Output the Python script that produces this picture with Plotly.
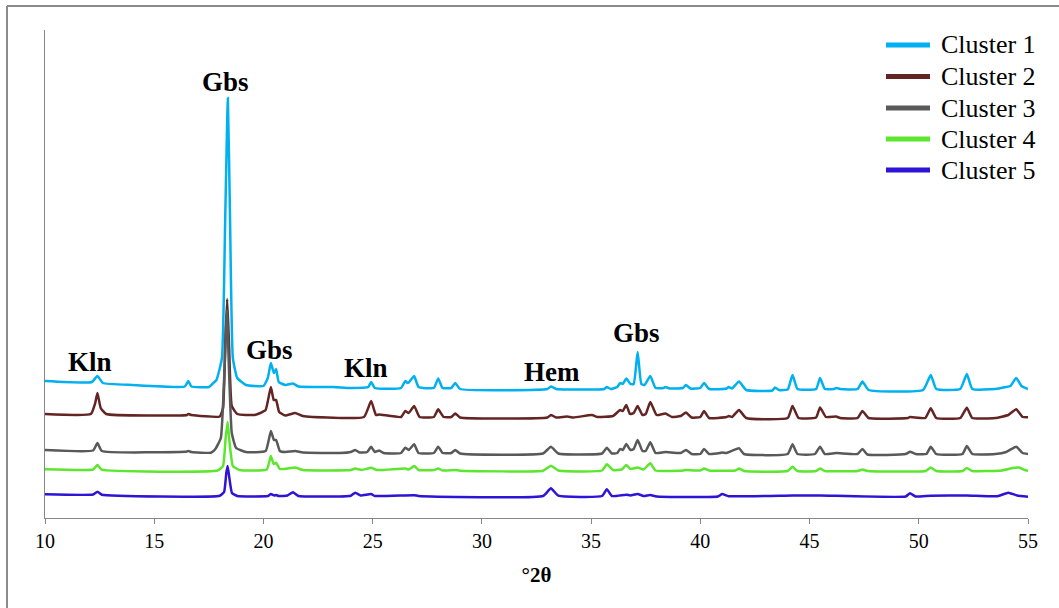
import plotly.graph_objects as go

# ---------------- data ----------------
series_names = ["Cluster 1", "Cluster 2", "Cluster 3", "Cluster 4", "Cluster 5"]
series_colors = ["#00B0F0", "#632523", "#595959", "#5CE62E", "#2E14D4"]

c1_x = [10.0, 12.15, 12.4, 12.65, 14.0, 16.4, 16.56, 16.7, 17.5, 17.7, 17.85, 18.1, 18.25, 18.37, 18.47, 18.6, 18.8, 19.2,
        20.0, 20.2, 20.34, 20.48, 20.58, 20.7, 21.0, 21.35, 21.6, 23.2, 24.0, 24.8, 24.93, 25.1, 26.3, 26.49, 26.6, 26.67,
        26.9, 27.1, 27.8, 28.0, 28.2, 28.6, 28.78, 29.0, 33.0, 33.16, 33.4, 35.6, 35.72, 35.9, 36.2, 36.33, 36.45, 36.61,
        36.8, 36.95, 37.13, 37.3, 37.45, 37.71, 37.95, 38.3, 38.4, 38.6, 39.2, 39.34, 39.55, 40.0, 40.17, 40.4, 41.2, 41.3,
        41.45, 41.77, 42.1, 43.3, 43.42, 43.6, 44.0, 44.22, 44.45, 45.3, 45.48, 45.7, 46.1, 46.22, 46.4, 47.2, 47.42, 47.7,
        50.2, 50.55, 50.8, 51.9, 52.2, 52.45, 53.5, 54.0, 54.2, 54.46, 54.7, 55.0]
c1_y = [137, 136, 142, 135, 133, 131.5, 137, 131.5, 131, 135, 138, 160, 300, 420, 300, 160, 140, 133,
        132, 140, 155, 145, 149, 136, 133, 134.5, 131.5, 131, 130, 131, 136, 130, 130, 137, 135, 136,
        142, 131, 130, 139.5, 130, 130, 135, 129, 129, 131.5, 129, 129, 131, 129, 131, 135, 134, 139.5,
        134, 134, 166, 134, 133, 142, 130, 130, 131, 129.5, 130, 133, 129.5, 130, 135, 129, 129.5, 131,
        129.5, 136.5, 128, 127.5, 130.5, 128, 128.5, 143, 129, 129, 140, 129, 129, 130, 129, 129, 136.5, 128,
        128, 143, 129, 129, 144, 129, 129, 131, 132, 140, 132, 129]

c2_x = [10.0, 12.1, 12.3, 12.4, 12.55, 12.8, 16.5, 16.56, 16.7, 18.0, 18.15, 18.26, 18.34, 18.43, 18.55, 18.8, 19.6, 19.8,
        20.1, 20.34, 20.47, 20.58, 20.72, 21.0, 21.45, 21.8, 24.6, 24.93, 25.15, 25.3, 26.3, 26.49, 26.65, 26.9, 27.15,
        27.8, 28.0, 28.25, 28.6, 28.78, 29.0, 33.0, 33.16, 33.4, 33.9, 34.2, 35.04, 35.3, 36.0, 36.33, 36.45, 36.61, 36.78,
        36.95, 37.13, 37.35, 37.5, 37.71, 38.0, 38.4, 38.7, 39.1, 39.34, 39.6, 40.0, 40.17, 40.4, 41.2, 41.3, 41.45, 41.77,
        42.1, 44.0, 44.22, 44.5, 45.3, 45.48, 45.75, 46.22, 46.4, 47.2, 47.42, 47.7, 49.5, 49.6, 50.3, 50.55, 50.8, 51.9,
        52.2, 52.45, 53.5, 54.1, 54.46, 54.75, 55.0]
c2_y = [104, 104, 115, 125, 110, 104, 103, 104, 103, 101.5, 110, 180, 219, 170, 112, 104, 103, 104.5,
        108, 131, 118, 118, 106, 102.5, 105, 102, 101, 117, 103, 103.5, 101, 107, 105, 112, 101,
        101, 108.7, 101, 101, 104.5, 100.5, 100.5, 103, 100.5, 101.5, 100.5, 103, 101, 102, 108, 107, 113, 104,
        105, 112, 103, 104, 116, 103, 104.5, 101, 102, 105.5, 100.5, 101, 107, 100, 101, 102, 101, 108,
        100, 100, 112, 100, 100.5, 110.5, 101, 101.5, 100, 100, 107, 100, 100, 101, 100, 109.7, 100, 100,
        110.3, 100, 100, 103, 108.7, 101, 100.7]

c3_x = [10.0, 12.2, 12.4, 12.6, 16.5, 16.56, 16.7, 17.6, 17.8, 18.05, 18.22, 18.33, 18.42, 18.55, 18.75, 19.2, 20.1,
        20.34, 20.48, 20.58, 20.75, 21.0, 21.45, 21.8, 23.5, 24.0, 24.2, 24.4, 24.75, 24.93, 25.1, 25.3, 25.5, 26.3,
        26.49, 26.65, 26.9, 27.1, 27.8, 28.0, 28.2, 28.6, 28.78, 29.0, 32.8, 33.16, 33.5, 35.5, 35.72, 35.95, 36.2,
        36.33, 36.45, 36.61, 36.8, 36.95, 37.13, 37.35, 37.5, 37.71, 37.95, 38.4, 39.1, 39.34, 39.6, 40.0, 40.17, 40.4,
        40.9, 41.0, 41.2, 41.77, 42.0, 44.0, 44.22, 44.45, 45.25, 45.48, 45.7, 46.22, 47.2, 47.42, 47.65, 49.4, 49.6,
        49.85, 50.35, 50.55, 50.8, 52.0, 52.2, 52.45, 53.5, 54.0, 54.46, 54.75, 55.0]
c3_y = [68, 67.5, 75, 67, 66.5, 67, 66, 65.3, 69, 80, 150, 208, 150, 85, 70, 66, 67,
        87, 78, 78, 67, 66, 67, 65.5, 65, 66, 68, 65.5, 66, 71.3, 66, 67.5, 65, 65,
        70.3, 68, 73.7, 65, 65, 71.3, 65, 65, 68, 64.5, 64.5, 71.3, 64.5, 64.5, 70.3, 64.5, 65,
        69, 68, 74, 68, 69, 78, 67, 67, 75.7, 65, 66, 65, 68, 64, 64, 69, 64,
        65, 65.5, 65, 69.7, 64, 64, 73.7, 64, 64, 71.3, 64, 65, 64, 69, 63.5, 64, 66.3,
        64, 64, 71.3, 64, 64, 72, 64, 64, 66, 71.3, 65, 64]

c4_x = [10.0, 12.2, 12.4, 12.6, 17.9, 18.15, 18.27, 18.36, 18.45, 18.6, 18.9, 20.15, 20.34, 20.47, 20.58, 20.75, 21.45,
        21.8, 24.0, 24.2, 24.5, 24.93, 25.2, 26.49, 26.65, 26.9, 27.1, 27.8, 28.0, 28.2, 28.78, 29.0, 32.8, 33.16, 33.5,
        35.5, 35.72, 36.0, 36.4, 36.61, 36.8, 37.13, 37.4, 37.71, 37.95, 39.2, 39.34, 40.0, 40.17, 40.4, 41.6, 41.77,
        42.0, 44.0, 44.22, 44.45, 45.3, 45.48, 45.7, 47.2, 47.42, 47.65, 50.3, 50.55, 50.8, 52.0, 52.2, 52.45, 53.8,
        54.3, 54.6, 54.85, 55.0]
c4_y = [48.7, 48.5, 53, 48.3, 47.5, 52, 80, 96.3, 75, 52, 48, 48.5, 62, 54, 55.3, 49, 50.5,
        48, 48, 49.5, 48, 50.3, 48, 49.5, 48.5, 52, 48, 48, 49.5, 47.5, 48, 47.3, 47.3, 52.3, 47.5,
        47.5, 53.7, 48, 48.5, 53, 49, 50.5, 48.5, 54.7, 47.5, 47.5, 48, 47.5, 49.5, 47.5, 47.5, 49.5,
        47, 47, 51.3, 47, 47, 49.5, 47, 47, 48.5, 47, 47, 50.5, 47, 47, 50, 47, 47.5,
        50, 50.5, 48, 47.3]

c5_x = [10.0, 12.2, 12.4, 12.6, 18.0, 18.2, 18.3, 18.36, 18.44, 18.56, 18.8, 20.2, 20.34, 20.5, 20.58, 20.7, 21.1,
        21.35, 21.6, 24.0, 24.2, 24.45, 24.93, 25.1, 26.9, 27.1, 32.8, 33.16, 33.5, 35.5, 35.72, 35.95, 36.61, 36.8,
        37.13, 37.4, 37.71, 38.0, 40.8, 41.0, 41.3, 44.22, 45.48, 49.4, 49.6, 49.85, 50.55, 52.2, 53.6, 54.1, 54.5, 55.0]
c5_y = [23.7, 23.5, 26.3, 23.2, 22.3, 26, 45, 52, 40, 25, 22, 22, 24, 22.5, 23, 22, 22.5,
        25.7, 22, 22.3, 25.3, 22.5, 24, 22, 22.8, 22, 22, 29.7, 22.3, 22, 28.7, 22, 23.3, 22.5,
        24, 22, 23, 21.5, 21.5, 24, 21.8, 22.5, 22.5, 21.5, 24.7, 21.5, 22.3, 22.5, 21.8, 25.3, 22.5, 21.3]

series_x = [c1_x, c2_x, c3_x, c4_x, c5_x]
series_y = [c1_y, c2_y, c3_y, c4_y, c5_y]

peak_labels = ["Kln", "Gbs", "Gbs", "Kln", "Hem", "Gbs"]
peak_label_x = [12.06, 18.24, 20.26, 24.7, 33.2, 37.1]
peak_label_y = [156, 436, 168, 150, 146, 185]

x_ticks = [10, 15, 20, 25, 30, 35, 40, 45, 50, 55]

# ---------------- figure ----------------
fig = go.Figure()
for name, color, xs, ys in zip(series_names, series_colors, series_x, series_y):
    fig.add_trace(go.Scatter(x=xs, y=ys, mode="lines", name=name, showlegend=False,
                             line=dict(color=color, width=2.5, shape="spline", smoothing=0.4)))

for txt, lx, ly in zip(peak_labels, peak_label_x, peak_label_y):
    fig.add_annotation(x=lx, y=ly, text="<b>%s</b>" % txt, showarrow=False,
                       font=dict(family="Liberation Serif", size=27, color="black"))

# legend drawn as line samples + text (plot-area paper coordinates)
PLOT_L, PLOT_W, PLOT_B, PLOT_H = 45, 983, 518, 488
def px_to_paper_x(px):
    return (px - PLOT_L) / PLOT_W
def px_to_paper_y(py):
    return (PLOT_B - py) / PLOT_H

shapes = []
row_y = [45, 76.5, 108, 139, 170]
for name, color, ry in zip(series_names, series_colors, row_y):
    shapes.append(dict(type="line", xref="paper", yref="paper",
                       x0=px_to_paper_x(886), x1=px_to_paper_x(930),
                       y0=px_to_paper_y(ry), y1=px_to_paper_y(ry),
                       line=dict(color=color, width=5)))
    fig.add_annotation(xref="paper", yref="paper", x=px_to_paper_x(939), y=px_to_paper_y(ry),
                       xanchor="left", yanchor="middle", text=name, showarrow=False,
                       font=dict(family="Liberation Serif", size=26, color="black"))

# figure frame (top and left edges visible in the reference)
shapes.append(dict(type="line", xref="paper", yref="paper", x0=px_to_paper_x(7), x1=px_to_paper_x(1070),
                   y0=px_to_paper_y(6), y1=px_to_paper_y(6), line=dict(color="#8a8a8a", width=2)))
shapes.append(dict(type="line", xref="paper", yref="paper", x0=px_to_paper_x(7), x1=px_to_paper_x(7),
                   y0=px_to_paper_y(6), y1=px_to_paper_y(620), line=dict(color="#8a8a8a", width=2)))

axis_gray = "#868686"
fig.update_layout(
    width=1059, height=608,
    margin=dict(l=45, r=31, t=30, b=90),
    paper_bgcolor="white", plot_bgcolor="white",
    showlegend=False,
    font=dict(family="Liberation Serif", color="black"),
    xaxis=dict(range=[10, 55], tickvals=x_ticks, ticks="outside", ticklen=5, tickcolor=axis_gray,
               showline=True, linecolor=axis_gray, linewidth=1, showgrid=False, zeroline=False,
               tickfont=dict(family="Liberation Serif", size=20, color="black"),
               title=dict(text="<b>°2θ</b>", font=dict(family="Liberation Serif", size=21, color="black"),
                          standoff=16)),
    yaxis=dict(range=[0, 488], showline=True, linecolor=axis_gray, linewidth=1, showgrid=False,
               zeroline=False, showticklabels=False, ticks=""),
    shapes=shapes,
)

fig.write_html("out.html", config={"displayModeBar": False},
               post_script="document.body.style.margin='0px';")
